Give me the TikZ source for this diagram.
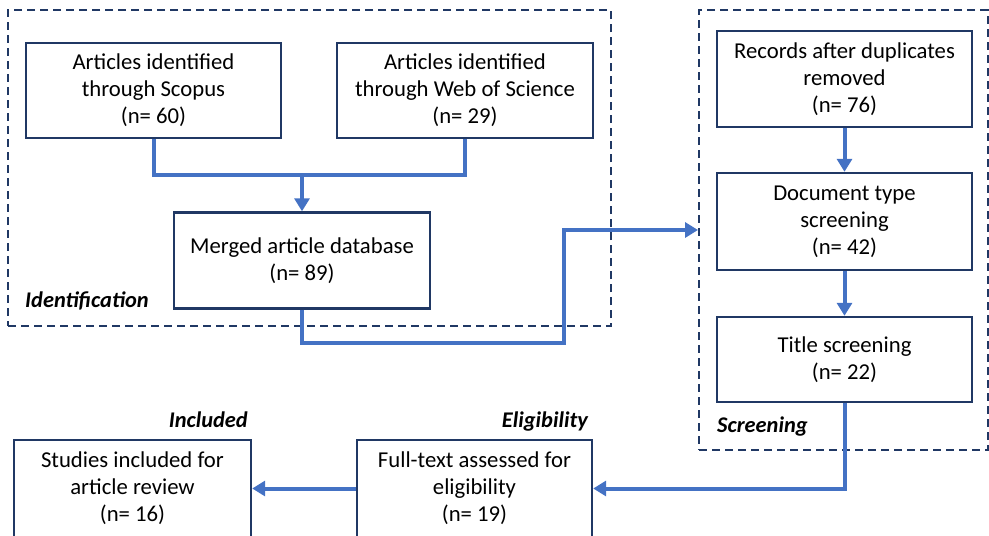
\documentclass[tikz,border=0pt]{standalone}
\usepackage{fontspec}
\setmainfont{Carlito}
\usetikzlibrary{arrows.meta}
\definecolor{navy}{HTML}{203864}
\definecolor{conblue}{HTML}{4472C4}
\tikzset{
  stepbox/.style={draw=navy, line width=2.4pt, rectangle, align=center, inner sep=0pt,
    font=\fontsize{22.7}{27}\selectfont},
  phasebox/.style={draw=navy, line width=2pt, dash pattern=on 8pt off 5pt, rectangle, inner sep=0pt},
  conn/.style={draw=conblue, line width=4pt},
  arr/.style={conn, -{Triangle[length=13pt,width=15pt]}},
  phaselabel/.style={font=\fontsize{22.4}{26}\selectfont\bfseries\itshape, inner sep=0pt}
}
\begin{document}
\begin{tikzpicture}[x=1pt,y=-1pt]
\useasboundingbox (0,0) rectangle (989,536);
\clip (0,0) rectangle (989,536);
% phase boxes
\node[phasebox, minimum width=603pt, minimum height=316pt] (ident) at (309.5,168) {};
\node[phasebox, minimum width=288.5pt, minimum height=440pt] (screen) at (843.25,230) {};
% step boxes
\node[stepbox, minimum width=255pt, minimum height=95pt] (scopus) at (153.5,90.5) {Articles identified\\through Scopus\\(n= 60)};
\node[stepbox, minimum width=256pt, minimum height=95pt] (wos) at (465,90.5) {Articles identified\\through Web of Science\\(n= 29)};
\node[stepbox, minimum width=256pt, minimum height=96pt] (merged) at (302,260.5) {Merged article database\\(n= 89)};
\node[stepbox, minimum width=255pt, minimum height=96pt] (records) at (844.5,79) {Records after duplicates\\removed\\(n= 76)};
\node[stepbox, minimum width=255pt, minimum height=97pt] (doctype) at (844.5,221.5) {Document type\\screening\\(n= 42)};
\node[stepbox, minimum width=255pt, minimum height=85pt] (title) at (844.5,359.5) {Title screening\\(n= 22)};
\node[stepbox, minimum width=235pt, minimum height=97pt] (fulltext) at (474.5,488.5) {Full-text assessed for\\eligibility\\(n= 19)};
\node[stepbox, minimum width=237pt, minimum height=97pt] (studies) at (132.5,488.5) {Studies included for\\article review\\(n= 16)};
% labels
\node[phaselabel, anchor=base west] (lident) at (25,307) {Identification};
\node[phaselabel, anchor=base west] (lscreen) at (717,432) {Screening};
\node[phaselabel, anchor=base east] (lincl) at (248,427) {Included};
\node[phaselabel, anchor=base east] (lelig) at (588,427) {Eligibility};
% connectors
\coordinate (j) at (302,175);
\coordinate (c1) at (564,343);
\draw[conn] (scopus.south) -- (scopus.south |- j) -- (wos.south |- j) -- (wos.south);
\draw[arr] (j) -- (merged.north);
\draw[arr] (merged.south) |- (c1) |- (screen.west);
\draw[arr] (records.south) -- (doctype.north);
\draw[arr] (doctype.south) -- (title.north);
\draw[arr] (title.south) |- (fulltext.east);
\draw[arr] (fulltext.west) -- (studies.east);
\end{tikzpicture}
\end{document}
